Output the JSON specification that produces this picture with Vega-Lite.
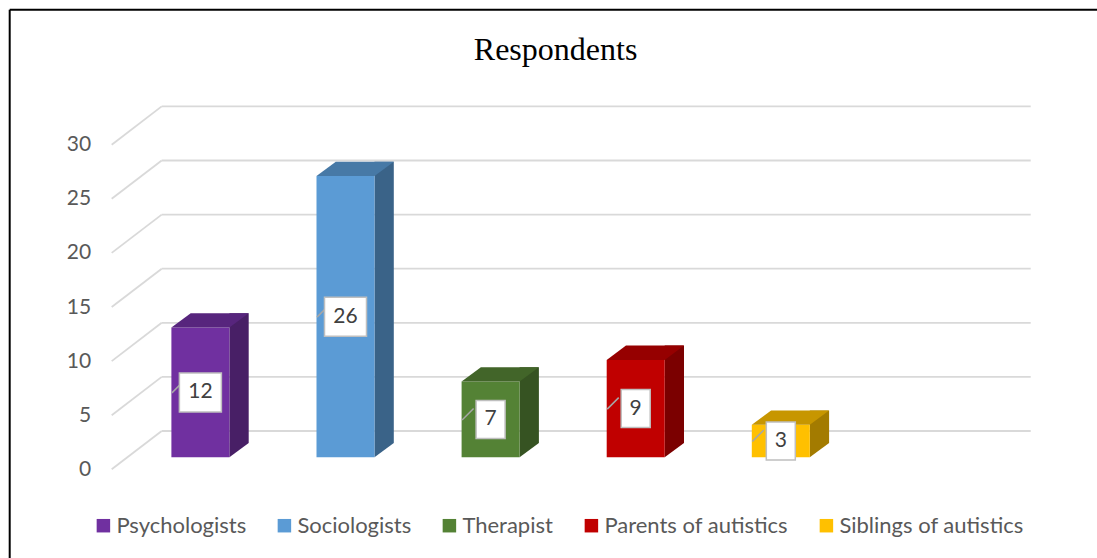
{
  "$schema": "https://vega.github.io/schema/vega-lite/v6.json",
  "width": 1087.3,
  "height": 548.3,
  "autosize": {"type": "none"},
  "padding": {"left": 9.7, "top": 9.7, "right": 0, "bottom": 0},
  "background": "white",
  "config": {"view": {"stroke": null}, "font": "Lato"},
  "title": {
    "text": "Respondents",
    "font": "Liberation Serif",
    "fontSize": 32,
    "fontWeight": "normal",
    "color": "#000000",
    "anchor": "middle",
    "frame": "group",
    "orient": "top",
    "baseline": "alphabetic",
    "offset": 0,
    "dx": 2.2,
    "dy": 83
  },
  "datasets": {
    "respondents": [
      {"group": "Psychologists", "count": 12},
      {"group": "Sociologists", "count": 26},
      {"group": "Therapist", "count": 7},
      {"group": "Parents of autistics", "count": 9},
      {"group": "Siblings of autistics", "count": 3}
    ],
    "ticks": [
      {"v": 0}, {"v": 5}, {"v": 10}, {"v": 15}, {"v": 20}, {"v": 25}, {"v": 30}
    ]
  },
  "layer": [
    {
      "data": {"values": [{}]},
      "mark": {"type": "rule", "color": "#000000", "strokeWidth": 2},
      "encoding": {"y": {"value": 0}}
    },
    {
      "data": {"values": [{}]},
      "mark": {"type": "rule", "color": "#000000", "strokeWidth": 2},
      "encoding": {"x": {"value": 0}}
    },
    {
      "layer": [
        {
          "data": {"name": "ticks"},
          "mark": {"type": "rule", "color": "#d9d9d9", "strokeWidth": 1.8, "yOffset": -26.3},
          "encoding": {
            "x": {"value": 152},
            "x2": {"value": 1021},
            "y": {
              "field": "v", "type": "quantitative", "title": null,
              "scale": {"domain": [0, 30], "range": [447.6, 123.0], "nice": false, "zero": true},
              "axis": {
                "orient": "left", "offset": -81, "domain": false, "ticks": false, "tickSize": 0,
                "grid": false, "labelPadding": 0, "labelOffset": 12,
                "values": [0, 5, 10, 15, 20, 25, 30],
                "labelFont": "Lato", "labelFontSize": 21, "labelColor": "#595959", "title": null
              }
            }
          }
        },
        {
          "data": {"name": "ticks"},
          "mark": {"type": "rule", "color": "#d9d9d9", "strokeWidth": 1.8, "yOffset": 12, "y2Offset": -26.3},
          "encoding": {
            "x": {"value": 102},
            "x2": {"value": 152},
            "y": {"field": "v", "type": "quantitative", "title": null},
            "y2": {"field": "v"}
          }
        },
        {
          "data": {"name": "respondents"},
          "mark": {"type": "bar", "width": 19.3, "xOffset": 38.65, "yOffset": -14.3, "y2Offset": -14.3},
          "encoding": {
            "x": {"field": "group", "type": "nominal", "axis": null,
                  "scale": {"domain": ["Psychologists", "Sociologists", "Therapist", "Parents of autistics", "Siblings of autistics"], "range": [118.15, 843.65], "paddingInner": 0.6, "paddingOuter": 0.3}},
            "y": {"field": "count", "type": "quantitative", "title": null},
            "color": {"field": "group", "type": "nominal", "legend": null,
                      "scale": {"domain": ["Psychologists", "Sociologists", "Therapist", "Parents of autistics", "Siblings of autistics"],
                                "range": ["#481f66", "#3a6388", "#365322", "#7b0000", "#a37b00"]}}
          }
        },
        {
          "data": {"name": "respondents"},
          "mark": {"type": "point", "shape": "M29,0L29,-14.3L48.3,-14.3Z", "size": 4, "filled": true, "opacity": 1, "strokeWidth": 0},
          "encoding": {
            "x": {"field": "group", "type": "nominal", "axis": null},
            "y": {"datum": 0, "type": "quantitative"},
            "color": {"field": "group", "type": "nominal", "legend": null,
                      "scale": {"domain": ["Psychologists", "Sociologists", "Therapist", "Parents of autistics", "Siblings of autistics"],
                                "range": ["#481f66", "#3a6388", "#365322", "#7b0000", "#a37b00"]}}
          }
        },
        {
          "data": {"name": "respondents"},
          "mark": {"type": "bar", "width": 58},
          "encoding": {
            "x": {"field": "group", "type": "nominal", "axis": null},
            "y": {"field": "count", "type": "quantitative", "title": null},
            "color": {
              "field": "group", "type": "nominal",
              "scale": {"domain": ["Psychologists", "Sociologists", "Therapist", "Parents of autistics", "Siblings of autistics"],
                        "range": ["#7030a0", "#5b9bd5", "#548235", "#c00000", "#ffc000"]},
              "legend": {
                "orient": "none", "legendX": 82.7, "legendY": 505, "direction": "horizontal",
                "title": null, "padding": 0, "symbolType": "square", "symbolSize": 182,
                "symbolStrokeWidth": 0, "labelFont": "Lato", "labelFontSize": 22,
                "labelColor": "#595959", "labelOffset": 2, "columnPadding": 27, "labelLimit": 400
              }
            }
          }
        },
        {
          "data": {"name": "respondents"},
          "mark": {"type": "point", "shape": "M-29,0L29,0L48.3,-14.3L-9.7,-14.3Z", "size": 4, "filled": true, "opacity": 1, "strokeWidth": 0},
          "encoding": {
            "x": {"field": "group", "type": "nominal", "axis": null},
            "y": {"field": "count", "type": "quantitative", "title": null},
            "color": {"field": "group", "type": "nominal", "legend": null,
                      "scale": {"domain": ["Psychologists", "Sociologists", "Therapist", "Parents of autistics", "Siblings of autistics"],
                                "range": ["#57257d", "#4779a6", "#426529", "#960000", "#c79600"]}}
          }
        }
      ],
      "resolve": {"scale": {"color": "independent"}, "legend": {"color": "independent"}}
    },
    {
      "data": {"name": "respondents"},
      "encoding": {
        "x": {"field": "group", "type": "nominal", "axis": null},
        "y": {"field": "count", "type": "quantitative", "axis": null,
              "scale": {"domain": [0, 60], "range": [447.6, 123.0], "nice": false, "zero": true}}
      },
      "layer": [
        {
          "mark": {"type": "point", "shape": "M-28.5,0.5L-17,-11", "size": 4, "filled": false, "opacity": 1, "stroke": "#a6a6a6", "strokeWidth": 1.5}
        },
        {
          "mark": {"type": "point", "size": 4, "filled": true, "opacity": 1, "fill": "#ffffff", "stroke": "#bfbfbf", "strokeWidth": 1.5},
          "encoding": {
            "shape": {"field": "group", "type": "nominal", "legend": null,
                      "scale": {"domain": ["Psychologists", "Sociologists", "Therapist", "Parents of autistics", "Siblings of autistics"],
                                "range": ["M-21,-19.5L21,-19.5L21,19.5L-21,19.5Z", "M-21,-19.5L21,-19.5L21,19.5L-21,19.5Z", "M-14.5,-19L14.5,-19L14.5,19L-14.5,19Z", "M-14.5,-19L14.5,-19L14.5,19L-14.5,19Z", "M-14.5,-19L14.5,-19L14.5,19L-14.5,19Z"]}}
          }
        },
        {
          "mark": {"type": "text", "font": "Lato", "fontSize": 21, "color": "#404040", "baseline": "middle", "align": "center"},
          "encoding": {"text": {"field": "count", "type": "quantitative"}}
        }
      ]
    }
  ],
  "resolve": {"scale": {"y": "independent"}, "axis": {"y": "independent"}}
}
